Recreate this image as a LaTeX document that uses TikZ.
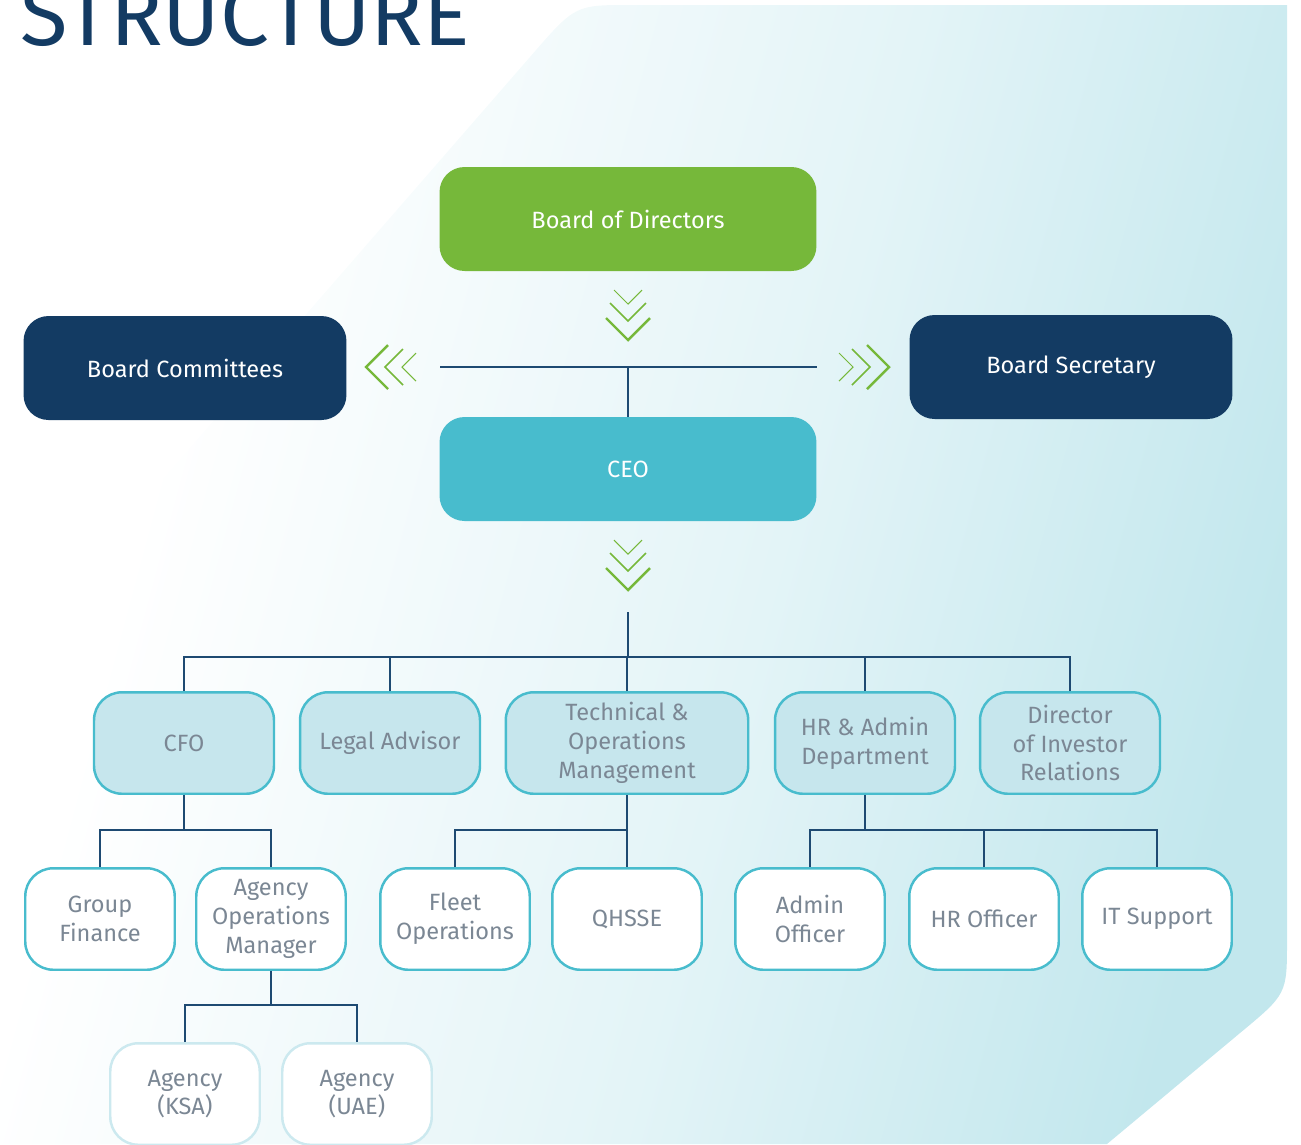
\documentclass[tikz,border=0pt]{standalone}
\usepackage{fontspec}
\setmainfont{Fira Sans}
\definecolor{navy}{HTML}{133B63}
\definecolor{leafgreen}{HTML}{76B83A}
\definecolor{ceocyan}{HTML}{48BCCD}
\definecolor{deptfill}{HTML}{C6E6ED}
\definecolor{greytext}{HTML}{7B8794}
\definecolor{linkblue}{HTML}{1E4A72}
\definecolor{paleline}{HTML}{CCE9EF}
\definecolor{bgM}{HTML}{E3F4F7}
\definecolor{bgB}{HTML}{C2E7ED}
\pgfdeclarehorizontalshading{panelfade}{100bp}{color(0bp)=(white); color(30bp)=(white); color(40bp)=(white!60!bgM); color(55bp)=(bgM); color(75bp)=(bgB); color(100bp)=(bgB)}
\begin{document}
\begin{tikzpicture}[x=0.02cm, y=-0.02cm,
  headbox/.style={rounded corners=0.5cm, fill=#1, text=white, minimum height=2.08cm, inner sep=0pt, font=\fontsize{13.4}{16.4}\selectfont},
  deptbox/.style={draw=ceocyan, line width=1.4pt, fill=#1, text=greytext, rounded corners=0.56cm, minimum height=2.03cm, inner sep=0pt, align=center, font=\fontsize{13.4}{16.4}\selectfont},
  chev/.style={draw=leafgreen},
  link/.style={draw=linkblue, line width=0.75pt}]
\useasboundingbox (0,0) rectangle (1301,1144);
% background panel
\shade[shading=panelfade, shading angle=-15] (0,666) -- (530,57) .. controls (575,5) .. (630,5) -- (1287,5) -- (1287,940) .. controls (1287,994) .. (1240,1033) -- (1107,1144) -- (0,1144) -- cycle;
\node[anchor=base west, text=navy, inner sep=0pt, font=\fontsize{49.5}{49.5}\selectfont] (title) at (20,45) {STRUCTURE};

% board level
\node[headbox=leafgreen, minimum width=7.54cm] (board) at (628,219) {Board of Directors};
\node[headbox=navy, minimum width=6.46cm] (committees) at (185,368) {Board Committees};
\node[headbox=navy, minimum width=6.46cm] (secretary) at (1071,367) {Board Secretary};
\node[headbox=ceocyan, minimum width=7.54cm] (ceo) at (628,469) {CEO};

% departments
\node[deptbox=deptfill, minimum width=3.6cm] (cfo) at (184,743) {CFO};
\node[deptbox=deptfill, minimum width=3.6cm] (legal) at (390,743) {Legal Advisor};
\node[deptbox=deptfill, minimum width=4.85cm] (tech) at (627,743) {Technical \&\\Operations\\Management};
\node[deptbox=deptfill, minimum width=3.6cm] (hr) at (865,743) {HR \& Admin\\Department};
\node[deptbox=deptfill, minimum width=3.6cm] (investor) at (1070,743) {Director\\of Investor\\Relations};

% units
\node[deptbox=white, minimum width=2.99cm] (finance) at (100,919) {Group\\Finance};
\node[deptbox=white, minimum width=2.99cm] (aom) at (271,919) {Agency\\Operations\\Manager};
\node[deptbox=white, minimum width=2.99cm] (fleet) at (455,919) {Fleet\\Operations};
\node[deptbox=white, minimum width=2.99cm] (qhsse) at (627,919) {QHSSE};
\node[deptbox=white, minimum width=2.99cm] (admin) at (810,919) {Admin\\Officer};
\node[deptbox=white, minimum width=2.99cm] (hrofficer) at (984,919) {HR Officer};
\node[deptbox=white, minimum width=2.99cm] (itsupport) at (1157,919) {IT Support};
\node[deptbox=white, draw=paleline, minimum width=2.99cm] (ksa) at (185,1094) {Agency\\(KSA)};
\node[deptbox=white, draw=paleline, minimum width=2.99cm] (uae) at (357,1094) {Agency\\(UAE)};

% chevrons
\foreach \off/\hw/\lw in {0/22/1.4pt, 19/18/0.9pt, 36/14/0.6pt} {
  \foreach \tip in {340,590}
    \draw[chev, line width=\lw] (628-\hw,\tip-\off-\hw) -- (628,\tip-\off) -- (628+\hw,\tip-\off-\hw);
  \draw[chev, line width=\lw] (366+\off+\hw,367-\hw) -- (366+\off,367) -- (366+\off+\hw,367+\hw);
  \draw[chev, line width=\lw] (889-\off-\hw,367-\hw) -- (889-\off,367) -- (889-\off-\hw,367+\hw);
}

% connectors
\coordinate (linkleft) at (440,367);
\coordinate (linkright) at (817,367);
\draw[link] (linkleft) -- (linkright);
\draw[link] (ceo.north) -- (ceo.north |- linkleft);
\coordinate (ceodrop) at (628,612);
\coordinate (deptbus) at (628,657);
\draw[link] (ceodrop) -- (deptbus);
\draw[link] (cfo.north) |- (deptbus) -| (investor.north);
\foreach \n in {legal,tech,hr}
  \draw[link] (\n.north) -- (\n.north |- deptbus);
\draw[link] (cfo.south) -- ++(0,34);
\draw[link] (finance.north) -- ++(0,-37) -| (aom.north);
\draw[link] (tech.south) -- ++(0,34);
\draw[link] (fleet.north) -- ++(0,-37) -| (qhsse.north);
\draw[link] (hr.south) -- ++(0,34);
\draw[link] (admin.north) -- ++(0,-37) -| (itsupport.north);
\draw[link] (hrofficer.north) -- ++(0,-37);
\draw[link] (aom.south) -- ++(0,34);
\draw[link] (ksa.north) -- ++(0,-37) -| (uae.north);
\end{tikzpicture}
\end{document}
